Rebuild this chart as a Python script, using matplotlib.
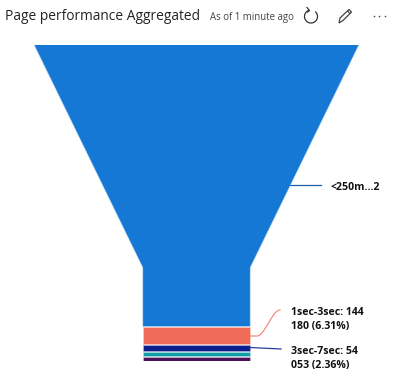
# funnel chart, page performance aggregated
import numpy as np
import matplotlib.pyplot as plt
from matplotlib.patches import Arc, Polygon

categories = ['<250ms', '1sec-3sec', '3sec-7sec', '7sec-20sec', '>20sec']
values = [2259000, 144180, 54053, 40000, 36000]
colors = ['#1478D4', '#F06A58', '#0C1E8E', '#0F9FA8', '#4A1058']
edges = ['#A5CDF0', '#FACFC8', '#B5BBDD', '#B7E2E5', '#D9C4DE']

label_1 = '<250m...2'
label_2 = '1sec-3sec: 144\n180 (6.31%)'
label_3 = '3sec-7sec: 54\n053 (2.36%)'

plt.rcParams['font.family'] = ['Open Sans', 'DejaVu Sans']

W, H = 394, 377
fig = plt.figure(figsize=(W / 100, H / 100), dpi=100)

# overlay in pixel coords, for header + labels
ov = fig.add_axes([0, 0, 1, 1], zorder=3)
ov.set_xlim(0, W)
ov.set_ylim(H, 0)
ov.axis('off')
ov.patch.set_alpha(0)

# funnel axes: x = share of top width, y = share of total
top, bottom = 44.5, 361
left, right = 34, 359
ax = fig.add_axes([left / W, 1 - bottom / H, (right - left) / W, (bottom - top) / H])
ax.set_xlim(-0.5, 0.5)
ax.set_ylim(1, 0)
ax.axis('off')

neck_y = 0.705
neck_w = 0.33
total = sum(values)
gap = 0.0012

start = 0
for i in range(len(values)):
    end = start + values[i] / total
    if i == 0:
        pts = [(-0.5, start), (0.5, start), (neck_w / 2, neck_y), (neck_w / 2, end - gap),
               (-neck_w / 2, end - gap), (-neck_w / 2, neck_y)]
    else:
        pts = [(-neck_w / 2, start + gap), (neck_w / 2, start + gap),
               (neck_w / 2, end - gap), (-neck_w / 2, end - gap)]
    ax.add_patch(Polygon(pts, closed=True, facecolor=colors[i], edgecolor=edges[i], lw=0.4))
    start = end

# leader lines
ov.plot([290, 321], [185, 185], color='#1F5FA8', lw=0.9)
t = np.linspace(0, 1, 30)
ov.plot(np.r_[250, 257, 257 + 23 * t],
        np.r_[336, 336, 336 - 26 * (3 * t**2 - 2 * t**3)],
        color='#F58C7E', lw=0.9)
ov.plot([250, 281], [347.5, 349], color='#2A3A9C', lw=0.9)

# labels
ov.text(331, 187, label_1, fontsize=7.6, fontweight='bold', color='#111111', va='center')
ov.text(291, 319.5, label_2, fontsize=7.6, fontweight='bold', color='#111111', va='center', linespacing=1.4)
ov.text(291, 358.5, label_3, fontsize=7.6, fontweight='bold', color='#111111', va='center', linespacing=1.4)

# header
ov.text(5.5, 17, 'Page performance Aggregated', fontsize=9.95, color='#252423', va='center')
ov.text(210.5, 17.5, 'As of 1 minute ago', fontsize=6.9, color='#444444', va='center')

# refresh icon
ov.add_patch(Arc((311, 16.5), 13, 13, theta1=-50, theta2=250, color='#333333', lw=0.9))
ov.plot([307, 309.5, 307.5], [7.5, 10.5, 12], color='#333333', lw=0.9)

# pencil icon
ov.add_patch(Polygon([(339, 23), (340, 18), (349, 9.5), (351.5, 12), (343, 20.5)],
                     closed=True, fc='none', ec='#444444', lw=0.9))
ov.plot([347.5, 350], [11, 13.5], color='#444444', lw=0.8)

# more dots
ov.scatter([374, 379.5, 385], [16, 16, 16], s=1.3, color='#444444', lw=0)

fig.savefig('out.png', dpi=100)
